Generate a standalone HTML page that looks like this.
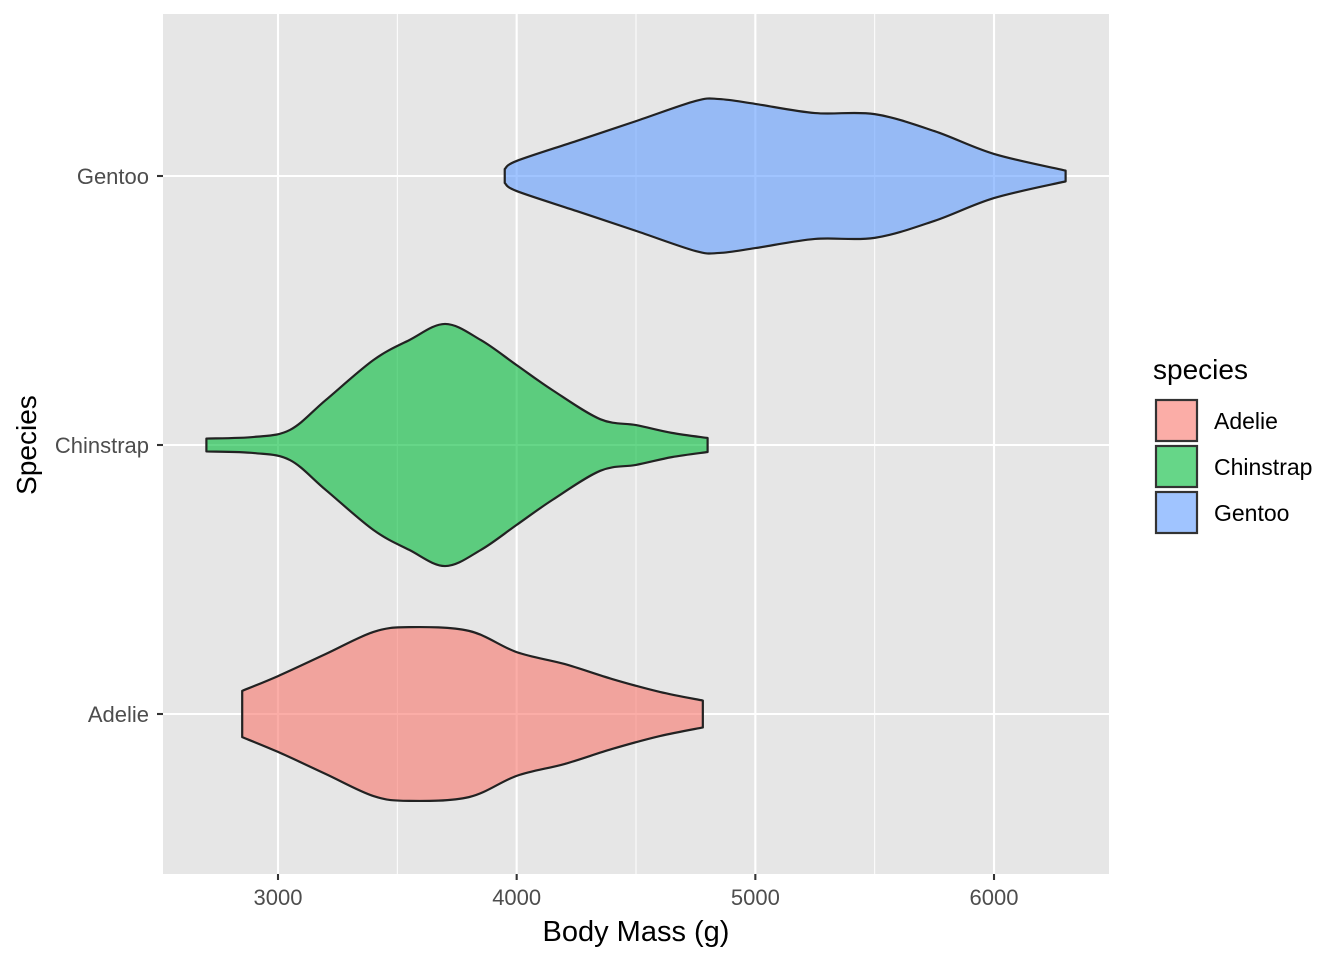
<!DOCTYPE html>
<html><head><meta charset="utf-8"><style>
body{margin:0;background:#fff}
svg{display:block;font-family:"Liberation Sans",Arial,sans-serif}
</style></head><body>
<svg id="chart" width="1344" height="960" xmlns="http://www.w3.org/2000/svg">
<rect x="163" y="14" width="946" height="860" fill="#E6E6E6"/>
<g id="grid"></g>
<g id="violins"></g>
<g id="axes"></g>
<text x="636" y="941" text-anchor="middle" font-size="29" fill="#000">Body Mass (g)</text>
<text x="36" y="445" text-anchor="middle" font-size="28" fill="#000" transform="rotate(-90 36 445)">Species</text>
<g>
<text x="1153" y="379" font-size="28" fill="#000">species</text>
<g id="legend"></g>
</g>
</svg>
<script>
const categories = ["Adelie","Chinstrap","Gentoo"];
const colors = ["#F8766D","#00BA38","#619CFF"];
const xTicks = [3000,4000,5000,6000];
const xMinor = [3500,4500,5500];
// violin profiles: mass values and half-widths (in category units)
const adelieMass = [2850,3000,3200,3400,3550,3800,4000,4200,4400,4600,4780];
const adelieHW = [0.086,0.141,0.223,0.305,0.323,0.309,0.230,0.186,0.130,0.082,0.050];
const chinMass = [2700,2900,3050,3200,3400,3550,3700,3850,4000,4150,4350,4500,4650,4800];
const chinHW = [0.024,0.030,0.056,0.167,0.316,0.390,0.450,0.390,0.297,0.204,0.096,0.074,0.045,0.026];
const gentooMass = [3950,4000,4250,4500,4750,4850,5000,5250,5500,5750,6000,6300];
const gentooHW = [0.026,0.056,0.130,0.204,0.279,0.286,0.268,0.234,0.230,0.167,0.082,0.020];

const NS="http://www.w3.org/2000/svg";
const X = v => 278 + (v-3000)*0.23867;
const Yc = i => 714 - i*269;
const HWpx = 269;
function mk(tag, attrs, parent){const e=document.createElementNS(NS,tag);for(const k in attrs)e.setAttribute(k,attrs[k]);parent.appendChild(e);return e;}
const grid=document.getElementById('grid'), axes=document.getElementById('axes'), vg=document.getElementById('violins'), lg=document.getElementById('legend');
xMinor.forEach(v=>{const l=mk('line',{x1:X(v),x2:X(v),y1:14,y2:874,stroke:'#fff','stroke-width':1},grid);

});
xTicks.forEach(v=>{const l=mk('line',{x1:X(v),x2:X(v),y1:14,y2:874,stroke:'#fff','stroke-width':2.1},grid);


const t=mk('line',{x1:X(v),x2:X(v),y1:874,y2:880,stroke:'#333','stroke-width':2.1},axes);


const tx=mk('text',{x:X(v),y:905,'text-anchor':'middle','font-size':22,fill:'#4D4D4D'},axes);tx.textContent=v;

});
categories.forEach((c,i)=>{const y=Yc(i);
const l=mk('line',{x1:163,x2:1109,y1:y,y2:y,stroke:'#fff','stroke-width':2.1},grid);


const t=mk('line',{x1:157,x2:163,y1:y,y2:y,stroke:'#333','stroke-width':2.1},axes);


const tx=mk('text',{x:149,y:y+8,'text-anchor':'end','font-size':22,fill:'#4D4D4D'},axes);tx.textContent=c;

});
function curve(pts){let d='';for(let i=0;i<pts.length-1;i++){const p0=pts[Math.max(0,i-1)],p1=pts[i],p2=pts[i+1],p3=pts[Math.min(pts.length-1,i+2)];
const c1=[p1[0]+(p2[0]-p0[0])/6,p1[1]+(p2[1]-p0[1])/6],c2=[p2[0]-(p3[0]-p1[0])/6,p2[1]-(p3[1]-p1[1])/6];
d+=` C${c1[0]},${c1[1]} ${c2[0]},${c2[1]} ${p2[0]},${p2[1]}`;}return d;}
const profiles=[[adelieMass,adelieHW],[chinMass,chinHW],[gentooMass,gentooHW]];
profiles.forEach(([m,h],i)=>{const yc=Yc(i);
const top=m.map((v,j)=>[X(v),yc-h[j]*HWpx]);
const bot=m.map((v,j)=>[X(v),yc+h[j]*HWpx]).reverse();
let d=`M${top[0][0]},${top[0][1]}`+curve(top)+` L${bot[0][0]},${bot[0][1]}`+curve(bot)+'Z';
const p=mk('path',{d:d,fill:colors[i],'fill-opacity':0.6,stroke:'#222','stroke-width':2.2,'stroke-linejoin':'round'},vg);


const r=mk('rect',{x:1156,y:400+i*46,width:41,height:41,fill:colors[i],'fill-opacity':0.6,stroke:'#333','stroke-width':2.2},lg);


const t=mk('text',{x:1214,y:429+i*46,'font-size':23,fill:'#000'},lg);t.textContent=categories[i];

});
</script>
</body></html>
